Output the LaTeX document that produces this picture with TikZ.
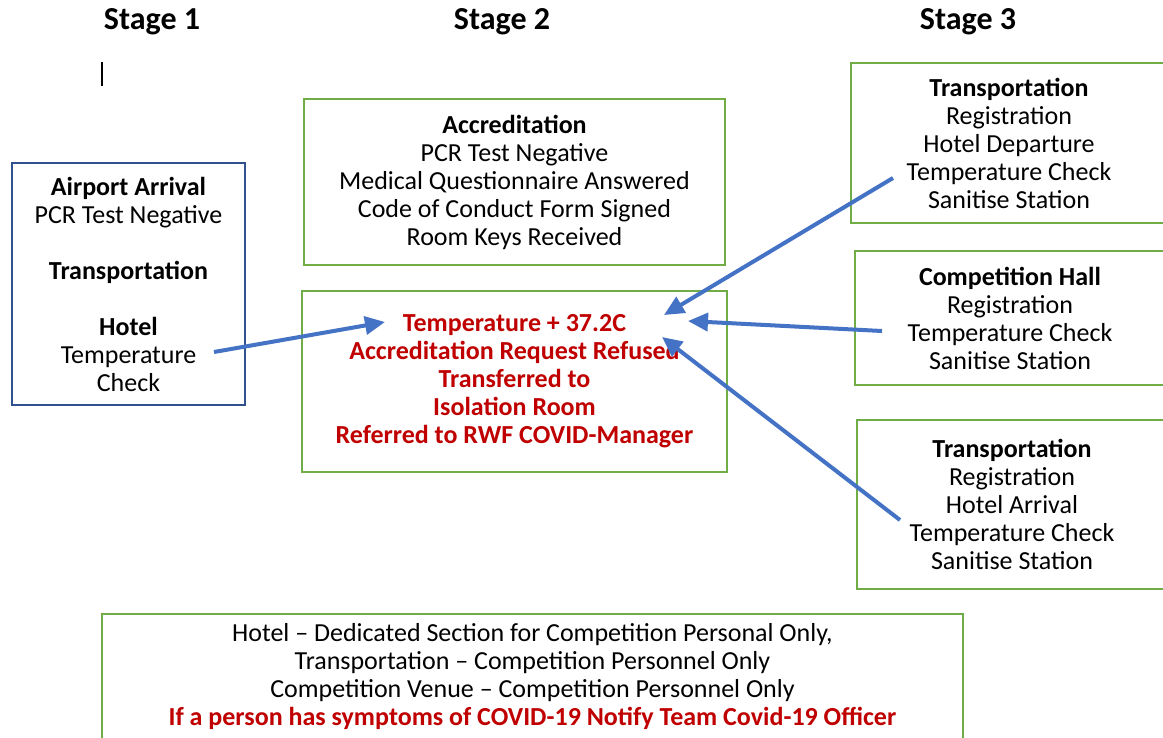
\documentclass[tikz,border=0pt]{standalone}
\usepackage{fontspec}
\setmainfont{Carlito}
\usetikzlibrary{arrows.meta}
\definecolor{boxgreen}{HTML}{70AD47}
\definecolor{boxnavy}{HTML}{2F528F}
\definecolor{arrowblue}{HTML}{4472C4}
\definecolor{alertred}{HTML}{C00000}
\begin{document}
\begin{tikzpicture}[x=1pt,y=-1pt,
  txt/.style={font=\fontsize{26}{28}\selectfont, align=center, inner sep=0pt, text=black},
  gbox/.style={txt, draw=boxgreen, line width=1.6pt},
  nbox/.style={txt, draw=boxnavy, line width=1.6pt},
  head/.style={font=\fontsize{32}{34}\selectfont\bfseries, inner sep=0pt},
  flow/.style={draw=arrowblue, line width=4pt, -{Triangle[length=20pt,width=18pt]}}
]
\useasboundingbox (0,0) rectangle (1163,737);
\fill[white] (0,0) rectangle (1163,737);
\clip (0,0) rectangle (1163,737);

% headings
\node[head] (h1) at (152,22) {Stage 1};
\node[head] (h2) at (502,22) {Stage 2};
\node[head] (h3) at (968,22) {Stage 3};
\draw[line width=2pt] (102,62) -- (102,86);

% stage 1
\node[nbox, minimum width=233pt, minimum height=242pt] (s1) at (128.5,284)
  {\textbf{Airport Arrival}\\PCR Test Negative\\[28pt]\textbf{Transportation}\\[28pt]\textbf{Hotel}\\Temperature\\Check};

% stage 2
\node[gbox, minimum width=421pt, minimum height=166pt] (acc) at (514.5,182)
  {\textbf{Accreditation}\\PCR Test Negative\\Medical Questionnaire Answered\\Code of Conduct Form Signed\\Room Keys Received};
\node[gbox, minimum width=425pt, minimum height=181pt, text=alertred, font=\fontsize{26}{28}\selectfont\bfseries] (iso) at (514.5,381.5)
  {Temperature + 37.2C\\Accreditation Request Refused\\Transferred to\\Isolation Room\\Referred to RWF COVID-Manager};

% stage 3
\node[gbox, minimum width=316pt, minimum height=160pt] (dep) at (1009,143)
  {\textbf{Transportation}\\Registration\\Hotel Departure\\Temperature Check\\Sanitise Station};
\node[gbox, minimum width=310pt, minimum height=134pt] (hall) at (1010,318)
  {\textbf{Competition Hall}\\Registration\\Temperature Check\\Sanitise Station};
\node[gbox, minimum width=310pt, minimum height=169pt] (arr) at (1012,504.5)
  {\textbf{Transportation}\\Registration\\Hotel Arrival\\Temperature Check\\Sanitise Station};

% bottom
\node[gbox, minimum width=861pt, minimum height=126pt] (note) at (532.5,677)
  {Hotel -- Dedicated Section for Competition Personal Only,\\Transportation -- Competition Personnel Only\\Competition Venue -- Competition Personnel Only\\\textcolor{alertred}{\bfseries If a person has symptoms of COVID-19 Notify Team Covid-19 Officer}};

% arrows
\coordinate (a1s) at (214,352);
\coordinate (a1e) at (385,322);
\coordinate (a2s) at (893,178);
\coordinate (a2e) at (664,315);
\coordinate (a3s) at (882,331);
\coordinate (a3e) at (688,321);
\coordinate (a4s) at (900,520);
\coordinate (a4e) at (662,337);
\draw[flow] (a1s) -- (a1e);
\draw[flow] (a2s) -- (a2e);
\draw[flow] (a3s) -- (a3e);
\draw[flow] (a4s) -- (a4e);
\end{tikzpicture}
\end{document}
